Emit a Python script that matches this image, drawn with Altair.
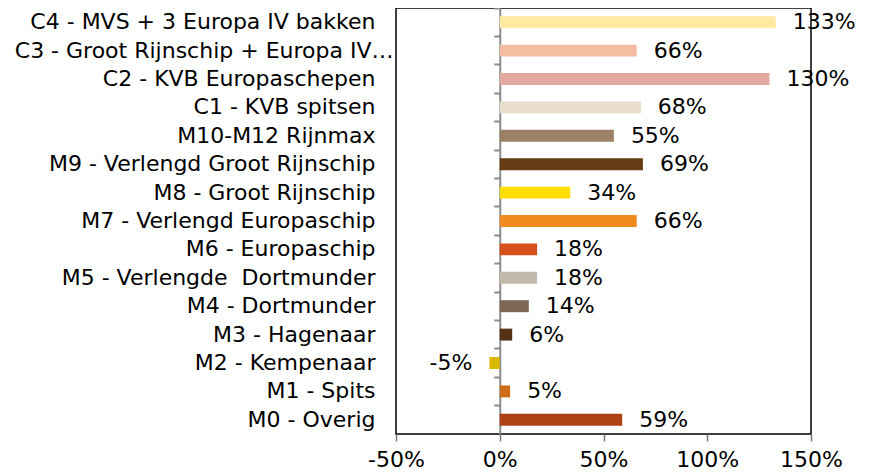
import altair as alt
import pandas as pd

names = [
    "C4 - MVS + 3 Europa IV bakken",
    "C3 - Groot Rijnschip + Europa IV…",
    "C2 - KVB Europaschepen",
    "C1 - KVB spitsen",
    "M10-M12 Rijnmax",
    "M9 - Verlengd Groot Rijnschip",
    "M8 - Groot Rijnschip",
    "M7 - Verlengd Europaschip",
    "M6 - Europaschip",
    "M5 - Verlengde\u00a0 Dortmunder",
    "M4 - Dortmunder",
    "M3 - Hagenaar",
    "M2 - Kempenaar",
    "M1 - Spits",
    "M0 - Overig",
]
values = [133, 66, 130, 68, 55, 69, 34, 66, 18, 18, 14, 6, -5, 5, 59]
colors = [
    "#FFE9A0", "#F4BDA2", "#E3A8A0", "#E8DCCB", "#9B7F67",
    "#653C14", "#FFDD00", "#F08A1E", "#D74F1A", "#C2B8AC",
    "#806654", "#543216", "#D8B800", "#CC6D1A", "#AE4014",
]
x_ticks = [-50, 0, 50, 100, 150]

df = pd.DataFrame({
    "name": names,
    "value": values,
    "label": [f"{v}%" for v in values],
})

FS = 22
y_scale = alt.Scale(paddingInner=0, paddingOuter=0)
x_enc = alt.X(
    "value:Q",
    scale=alt.Scale(domain=[-50, 150], nice=False, zero=False),
    axis=alt.Axis(
        title=None, values=x_ticks, labelExpr="datum.value + '%'",
        domain=False, grid=False, ticks=True, tickSize=7, tickColor="#777",
        tickWidth=1.5, labelFontSize=FS, labelColor="black", labelPadding=8,
        labelFlush=False, labelOverlap=False,
    ),
)

bars = alt.Chart(df).mark_bar(height={"band": 0.42}).encode(
    y=alt.Y(
        "name:N", sort=names, scale=y_scale,
        axis=alt.Axis(
            title=None, domain=False, ticks=False, labelFontSize=FS,
            labelColor="black", labelLimit=0,
            labelPadding={
                "condition": {"test": "indexof(datum.value, 'C3') === 0", "value": 3},
                "value": 21,
            },
        ),
    ),
    x=x_enc,
    color=alt.Color("name:N", scale=alt.Scale(domain=names, range=colors), legend=None),
)

pos_text = alt.Chart(df).transform_filter("datum.value >= 0").mark_text(
    align="left", baseline="middle", dx=17, fontSize=FS, color="black"
).encode(
    y=alt.Y("name:N", sort=names, scale=y_scale, axis=None),
    x=x_enc,
    text="label:N",
)

neg_text = alt.Chart(df).transform_filter("datum.value < 0").mark_text(
    align="right", baseline="middle", dx=-17, fontSize=FS, color="black"
).encode(
    y=alt.Y("name:N", sort=names, scale=y_scale, axis=None),
    x=x_enc,
    text="label:N",
)

zero_axis = alt.Chart(df).mark_point(opacity=0, size=0).encode(
    y=alt.Y(
        "name:N", sort=names, scale=y_scale,
        axis=alt.Axis(
            title=None, orient="left", offset=-103.75, labels=False,
            domain=True, domainColor="#8c8c8c", domainWidth=2,
            ticks=True, tickColor="#8c8c8c", tickWidth=2, tickSize=6,
            bandPosition=0, grid=False,
        ),
    ),
    x=x_enc,
)

chart = alt.layer(bars, pos_text, neg_text, zero_axis).resolve_axis(
    y="independent"
).properties(
    width=415,
    height=426,
    autosize=alt.AutoSizeParams(type="none"),
    padding={"left": 388, "top": 0, "right": 50, "bottom": 36},
).configure(
    font="DejaVu Sans",
).configure_view(
    stroke="black", strokeWidth=1.5,
)

chart.save("out.html", embed_options={"renderer": "svg", "actions": False})
